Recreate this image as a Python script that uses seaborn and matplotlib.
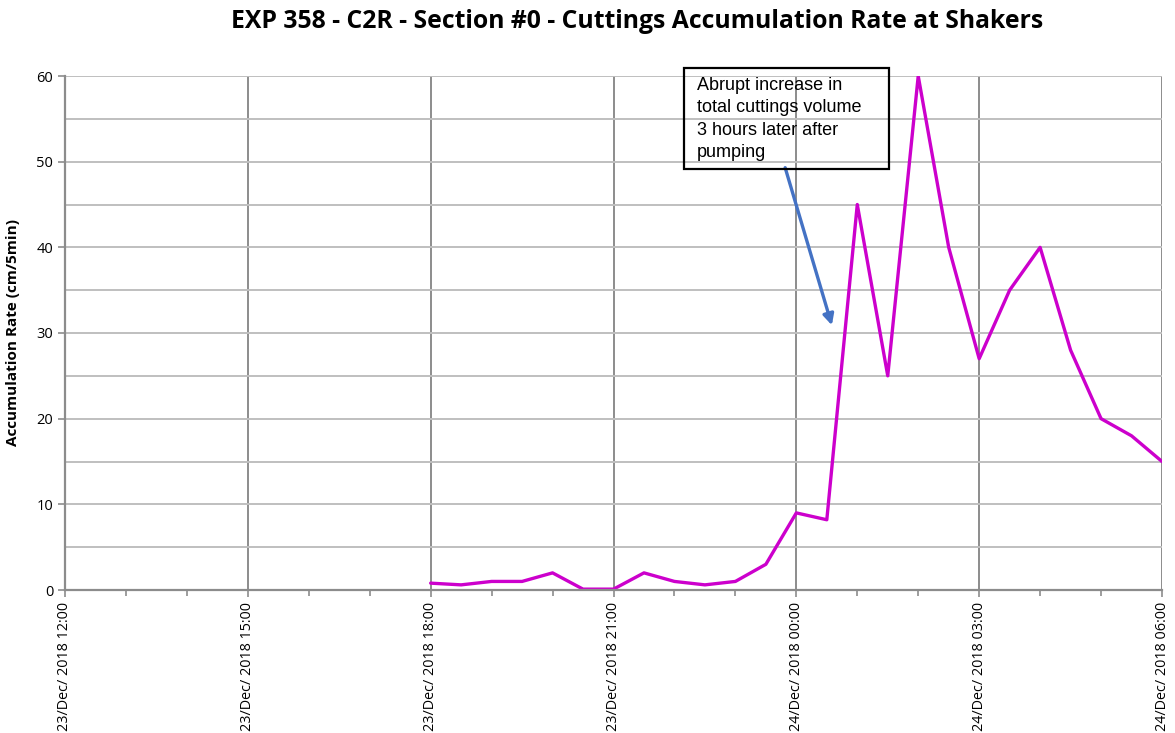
import pandas as pd
import matplotlib
matplotlib.use("Agg")
import matplotlib.pyplot as plt
import matplotlib.dates as mdates
from matplotlib.patches import Rectangle
import seaborn as sns

# data (30 min samples)
times = ["2018-12-23 18:00", "2018-12-23 18:30", "2018-12-23 19:00", "2018-12-23 19:30",
         "2018-12-23 20:00", "2018-12-23 20:30", "2018-12-23 21:00", "2018-12-23 21:30",
         "2018-12-23 22:00", "2018-12-23 22:30", "2018-12-23 23:00", "2018-12-23 23:30",
         "2018-12-24 00:00", "2018-12-24 00:30", "2018-12-24 01:00", "2018-12-24 01:30",
         "2018-12-24 02:00", "2018-12-24 02:30", "2018-12-24 03:00", "2018-12-24 03:30",
         "2018-12-24 04:00", "2018-12-24 04:30", "2018-12-24 05:00", "2018-12-24 05:30",
         "2018-12-24 06:00"]
rate = [0.8, 0.6, 1.0, 1.0, 2.0, 0.1, 0.1, 2.0, 1.0, 0.6, 1.0, 3.0,
        9.0, 8.2, 45.0, 25.0, 60.0, 40.0, 27.0, 35.0, 40.0, 28.0, 20.0, 18.0, 15.0]

x_start = "2018-12-23 12:00"
x_end = "2018-12-24 06:00"
title = "EXP 358 - C2R - Section #0 - Cuttings Accumulation Rate at Shakers"
ylabel = "Accumulation Rate (cm/5min)"
note = "Abrupt increase in\ntotal cuttings volume\n3 hours later after\npumping"
arrow_from = ("2018-12-23 23:49", 49.3)
arrow_to = ("2018-12-24 00:35", 30.9)

df = pd.DataFrame({"time": pd.to_datetime(times), "rate": rate})

sns.set_style("white")
plt.rcParams["font.family"] = ["Open Sans", "DejaVu Sans"]
plt.rcParams["text.color"] = "black"
plt.rcParams["axes.labelcolor"] = "black"
plt.rcParams["xtick.labelcolor"] = "black"
plt.rcParams["ytick.labelcolor"] = "black"

fig = plt.figure(figsize=(11.75, 7.33), dpi=100)
ax = fig.add_axes([65 / 1175, 1 - 590 / 733, (1162 - 65) / 1175, (590 - 76) / 733])

sns.lineplot(data=df, x="time", y="rate", ax=ax, color="#CC00CC", linewidth=2.4)

ax.set_xlim(pd.Timestamp(x_start), pd.Timestamp(x_end))
ax.set_ylim(0, 60)
ax.set_yticks(range(0, 61, 10))
ax.set_yticks(range(5, 60, 10), minor=True)

ax.xaxis.set_major_locator(mdates.HourLocator(byhour=range(0, 24, 3)))
ax.xaxis.set_minor_locator(mdates.HourLocator())
ax.xaxis.set_major_formatter(mdates.DateFormatter("%d/%b/ %Y %H:%M"))
plt.setp(ax.get_xticklabels(), rotation=90, fontsize=10.4)
plt.setp(ax.get_yticklabels(), fontsize=10.5)

ax.grid(True, axis="y", which="both", color="#BFBFBF", linewidth=1.4)
ax.grid(True, axis="x", which="major", color="#8C8C8C", linewidth=1.4)
ax.set_axisbelow(True)

for s in ["top", "right"]:
    ax.spines[s].set_visible(False)
for s in ["left", "bottom"]:
    ax.spines[s].set_color("#8C8C8C")
    ax.spines[s].set_linewidth(1.6)
ax.tick_params(axis="both", which="both", direction="out", color="#8C8C8C",
               width=1.2, length=5, bottom=True, left=True)
ax.tick_params(axis="y", which="minor", length=0)
ax.tick_params(axis="x", which="minor", length=4)

ax.set_xlabel("")
ax.set_ylabel(ylabel, fontsize=11, fontweight="bold", labelpad=12)
fig.text(637 / 1175, 1 - 22 / 733, title, ha="center", va="center",
         fontsize=17.8, fontweight="bold")

# annotation box + arrow
fig.patches.append(Rectangle((684 / 1175, 1 - 169 / 733), 205 / 1175, 101 / 733,
                             transform=fig.transFigure, facecolor="none",
                             edgecolor="black", linewidth=1.6, zorder=5))
fig.text(697 / 1175, 1 - 77 / 733, note, ha="left", va="top", fontsize=13,
         family=["Liberation Sans"], linespacing=1.42, zorder=6)
ax.annotate("", xy=(pd.Timestamp(arrow_to[0]), arrow_to[1]),
            xytext=(pd.Timestamp(arrow_from[0]), arrow_from[1]),
            arrowprops=dict(arrowstyle="-|>", color="#4472C4", lw=2.4,
                            mutation_scale=16, shrinkA=0, shrinkB=0))

fig.savefig("out.png", dpi=100)
